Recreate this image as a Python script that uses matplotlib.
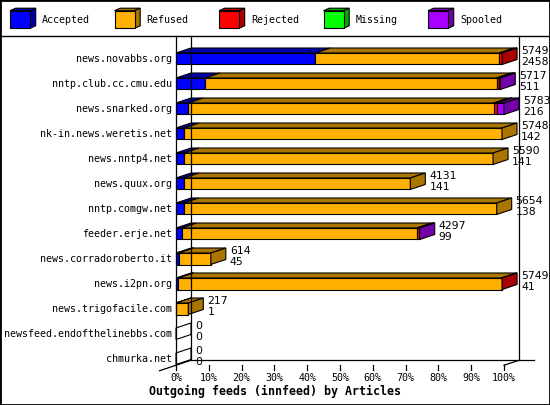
"""Outgoing innfeed articles per peer, drawn as 3d horizontal stacked bars"""

import matplotlib
matplotlib.use("Agg")
from matplotlib import pyplot as plt
from matplotlib.patches import Polygon, Rectangle
from matplotlib.lines import Line2D

# peers and article counts
feeds = [
    "news.novabbs.org", "nntp.club.cc.cmu.edu", "news.snarked.org",
    "nk-in.news.weretis.net", "news.nntp4.net", "news.quux.org",
    "nntp.comgw.net", "feeder.erje.net", "news.corradoroberto.it",
    "news.i2pn.org", "news.trigofacile.com", "newsfeed.endofthelinebbs.com",
    "chmurka.net",
]
offered = [5749, 5717, 5783, 5748, 5590, 4131, 5654, 4297, 614, 5749, 217, 0, 0]
accepted = [2458, 511, 216, 142, 141, 141, 138, 99, 45, 41, 1, 0, 0]
refused = [3239, 5141, 5387, 5606, 5449, 3990, 5516, 4148, 569, 5698, 216, 0, 0]
rejected = [52, 35, 55, 0, 0, 0, 0, 35, 0, 10, 0, 0, 0]
missing = [0, 0, 0, 0, 0, 0, 0, 0, 0, 0, 0, 0, 0]
spooled = [0, 30, 125, 0, 0, 0, 0, 15, 0, 0, 0, 0, 0]

serie = ["Accepted", "Refused", "Rejected", "Missing", "Spooled"]
kolory = ["#0000ff", "#ffb000", "#ff0000", "#00ff00", "#aa00ff"]
ciemne = ["#0000ab", "#ab7600", "#ab0000", "#00ab00", "#7200ab"]
procenty = [0, 10, 20, 30, 40, 50, 60, 70, 80, 90, 100]

MONO = "DejaVu Sans Mono"

# 3d geometry: depth in percent (x) and in category units (y)
DX = 15 / 3.28
DY = 0.2
GORA, DOL = -0.24, 0.22          # bar front edges relative to the row
n = len(feeds)
podloga = n - 1 + 0.25
sufit = -0.92

fig = plt.figure(figsize=(5.5, 4.05), dpi=100, facecolor="white")
ax = fig.add_axes([176 / 550, (405 - 365.25) / 405, 328 / 550, (365.25 - 36) / 405])
ax.set_xlim(0, 100)
ax.set_ylim(podloga, sufit)
ax.axis("off")

def linia(xs, ys):
    ax.add_line(Line2D(xs, ys, color="black", lw=0.9, clip_on=False))

# walls and floor
linia([0, 0], [podloga, sufit])
linia([DX, DX], [podloga - DY, sufit])
linia([100 + DX, 100 + DX], [podloga - DY, sufit])
linia([DX, 100 + 2 * DX], [podloga - DY, podloga - DY])
linia([100, 100 + DX], [podloga, podloga - DY])
linia([-1.1 * DX, DX], [podloga + 1.1 * DY, podloga - DY])
for p in procenty:
    linia([p, p], [podloga, podloga + 0.2])
    ax.text(p, podloga + 0.5, "%d%%" % p, ha="center", va="center",
            family=MONO, fontsize=7.2)

skala = 100.0 / max(offered)
dane = [accepted, refused, rejected, missing, spooled]

for i in range(n):
    y0, y1 = i + GORA, i + DOL
    ax.text(-0.012 * 100, i, feeds[i], ha="right", va="center",
            family=MONO, fontsize=7.2)
    x = 0.0
    ostatni = None
    for k, seria in enumerate(dane):
        w = seria[i] * skala
        if w <= 0:
            continue
        ax.add_patch(Rectangle((x, y0), w, y1 - y0, facecolor=kolory[k],
                               edgecolor="black", lw=0.8, clip_on=False))
        ax.add_patch(Polygon([(x, y0), (x + w, y0), (x + w + DX, y0 - DY),
                              (x + DX, y0 - DY)], closed=True,
                             facecolor=ciemne[k], edgecolor="black", lw=0.8,
                             clip_on=False))
        x += w
        ostatni = k
    bok = ciemne[ostatni] if ostatni is not None else "none"
    ax.add_patch(Polygon([(x, y0), (x + DX, y0 - DY), (x + DX, y1 - DY),
                          (x, y1)], closed=True, facecolor=bok,
                         edgecolor="black", lw=0.8, clip_on=False))
    # totals: offered over accepted
    xt = offered[i] * skala + DX + 4 / 3.28
    ax.text(xt, i - 0.33, str(offered[i]), ha="left", va="center",
            fontsize=7.8, family="DejaVu Sans")
    ax.text(xt, i + 0.11, str(accepted[i]), ha="left", va="center",
            fontsize=7.8, family="DejaVu Sans")

fig.text(0.5, 1 - 391 / 405, "Outgoing feeds (innfeed) by Articles",
         ha="center", va="center", family=MONO, fontsize=8.4, weight="bold")

# legend row with small cubes
lg = fig.add_axes([0, 1 - 35 / 405, 1, 35 / 405])
lg.set_xlim(0, 550)
lg.set_ylim(35, 0)
lg.axis("off")
for k, nazwa in enumerate(serie):
    lx = 10 + 104.5 * k
    lg.add_patch(Polygon([(lx, 10.7), (lx + 20, 10.7), (lx + 25.7, 8.2),
                          (lx + 5.7, 8.2)], closed=True, facecolor=ciemne[k],
                         edgecolor="black", lw=0.8))
    lg.add_patch(Polygon([(lx + 20, 10.7), (lx + 25.7, 8.2), (lx + 25.7, 25.8),
                          (lx + 20, 28.3)], closed=True, facecolor=ciemne[k],
                         edgecolor="black", lw=0.8))
    lg.add_patch(Rectangle((lx, 10.7), 20, 17.6, facecolor=kolory[k],
                           edgecolor="black", lw=0.8))
    lg.text(lx + 32, 20, nazwa, ha="left", va="center", family=MONO,
            fontsize=7.2)

# outer frame and legend divider
fig.add_artist(Rectangle((0, 0), 1, 1, transform=fig.transFigure,
                         fill=False, edgecolor="black", lw=2))
fig.add_artist(Line2D([0, 1], [1 - 35.5 / 405, 1 - 35.5 / 405],
                      transform=fig.transFigure, color="black", lw=1))

fig.savefig("out.png", dpi=100)
